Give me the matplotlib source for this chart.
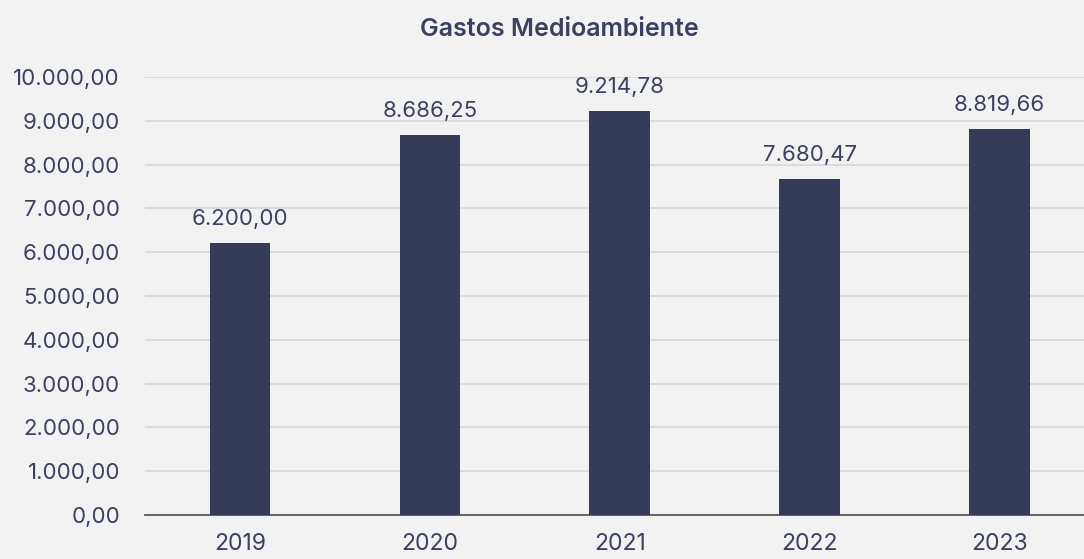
import matplotlib

matplotlib.use("Agg")

import matplotlib.pyplot as plt
from matplotlib.ticker import FuncFormatter
import numpy as np

years = ["2019", "2020", "2021", "2022", "2023"]
gastos = [6200.00, 8686.25, 9214.78, 7680.47, 8819.66]
y_ticks = [0, 1000, 2000, 3000, 4000, 5000, 6000, 7000, 8000, 9000, 10000]

BG = "#f2f2f2"
NAVY = "#363c58"
TEXT = "#3a4060"


def es_format(value: float) -> str:
    # Spanish number style: dot for thousands, comma for decimals
    s = f"{value:,.2f}"
    return s.replace(",", "X").replace(".", ",").replace("X", ".")


def main() -> None:
    plt.rcParams["font.family"] = ["Inter", "DejaVu Sans"]
    fig = plt.figure(figsize=(10.84, 5.59), dpi=100, facecolor=BG)
    ax = fig.add_axes([0.1338, 0.0787, 0.876, 0.7835])
    ax.set_facecolor(BG)

    x = np.arange(len(years))
    ax.bar(x, gastos, width=0.32, color=NAVY, zorder=3)
    for xi, val in zip(x, gastos):
        ax.annotate(es_format(val), (xi, val), xytext=(0, 13),
                    textcoords="offset points", ha="center", va="baseline",
                    fontsize=16, color=TEXT)

    ax.set_xlim(-0.5, len(years) - 0.5)
    ax.set_ylim(0, 10000)
    ax.set_yticks(y_ticks)
    ax.yaxis.set_major_formatter(FuncFormatter(lambda v, _: es_format(v)))
    ax.set_xticks(x, years)
    ax.grid(axis="y", color="#d9d9d9", linewidth=1.3, zorder=0)
    for side in ["top", "right", "left"]:
        ax.spines[side].set_visible(False)
    ax.spines["bottom"].set_color("#595959")
    ax.spines["bottom"].set_linewidth(1.3)
    ax.tick_params(axis="both", length=0, labelsize=16, colors=TEXT)
    ax.tick_params(axis="y", pad=18)
    ax.tick_params(axis="x", labelsize=16.5, pad=13)

    fig.text(0.516, 0.948, "Gastos Medioambiente", ha="center", va="center",
             fontsize=18, fontweight="semibold", color=TEXT)

    fig.savefig("out.png", dpi=100, facecolor=BG)
    plt.close(fig)


if __name__ == "__main__":
    main()
